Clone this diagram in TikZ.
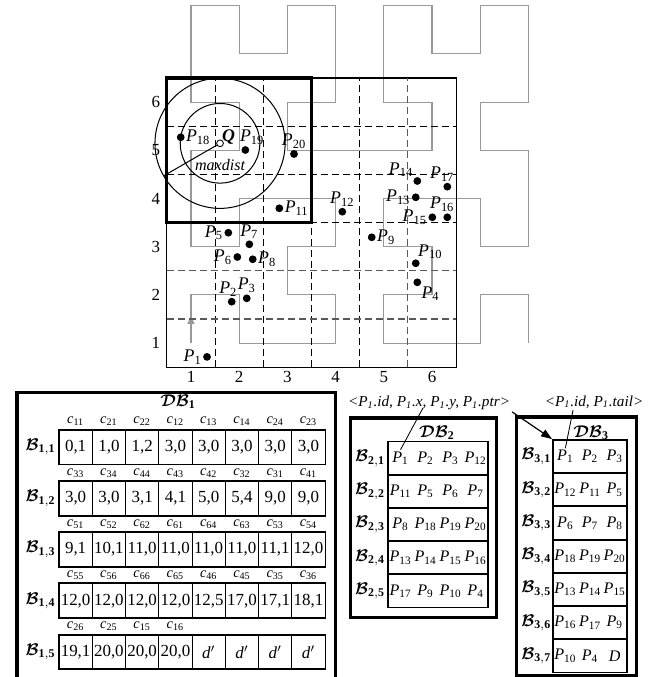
\documentclass[tikz,border=0pt]{standalone}
\usepackage{fontspec}
\setmainfont{Liberation Serif}
\usepackage{bm}
\usetikzlibrary{positioning,arrows.meta}

\newcommand{\pnt}[1]{\textit{P}\textsubscript{#1}}
\newcommand{\blk}[1]{$\bm{\mathcal{B}}_{\mathbf{#1}}$}

\begin{document}
\begin{tikzpicture}[x=1cm, y=1cm,
  every node/.style={font=\fontsize{10}{12}\selectfont},
  dot/.style={circle, fill=black, inner sep=0pt, minimum size=4.6pt},
  plab/.style={inner sep=0.5pt, font=\fontsize{10.5}{12}\selectfont},
  grd/.style={dash pattern=on 4pt off 2.5pt, line width=0.6pt},
  hilb/.style={draw=black!40, line width=0.7pt},
  cell/.style={draw, line width=0.5pt, minimum width=0.69cm, minimum height=0.705cm,
    inner sep=0pt, font=\fontsize{10}{12}\selectfont},
  hdr/.style={inner sep=0pt, font=\fontsize{8.5}{10}\selectfont},
  blab/.style={inner sep=0pt},
  prow/.style={draw, line width=1.1pt, minimum height=0.689cm, inner sep=0pt},
  ent/.style={inner sep=1pt, font=\fontsize{9.5}{11}\selectfont},
  frame/.style={line width=1.8pt},
  note/.style={inner sep=1pt, font=\fontsize{9}{11}\selectfont\itshape}]
  \useasboundingbox (-2.963,-5.927) rectangle (10.917,8.118);
  \clip (-2.963,-5.927) rectangle (10.917,8.118);

  % hilbert order
  \draw[hilb] (1,1) -- (1,2) -- (2,2) -- (2,1) -- (3,1) -- (4,1) -- (4,2) -- (3,2)
    -- (3,3) -- (4,3) -- (4,4) -- (3,4) -- (2,4) -- (2,3) -- (1,3) -- (1,4)
    -- (1,5) -- (2,5) -- (2,6) -- (1,6) -- (1,7) -- (1,8) -- (2,8) -- (2,7)
    -- (3,7) -- (3,8) -- (4,8) -- (4,7) -- (4,6) -- (3,6) -- (3,5) -- (4,5)
    -- (5,5) -- (6,5) -- (6,6) -- (5,6) -- (5,7) -- (5,8) -- (6,8) -- (6,7)
    -- (7,7) -- (7,8) -- (8,8) -- (8,7) -- (8,6) -- (7,6) -- (7,5) -- (8,5)
    -- (8,4) -- (8,3) -- (7,3) -- (7,4) -- (6,4) -- (5,4) -- (5,3) -- (6,3)
    -- (6,2) -- (5,2) -- (5,1) -- (6,1) -- (7,1) -- (7,2) -- (8,2) -- (8,1);
  \draw[hilb, -{Triangle[length=4.6pt, width=4.2pt]}] (1,1) -- (1,1.56);

  \draw[line width=0.6pt] (0.5,0.5) rectangle (6.5,6.5);
  \foreach \k/\c in {1.5/black, 2.5/black, 3.5/black, 4.5/black, 5.5/black!65}
    \draw[grd, draw=\c] (\k,0.5) -- (\k,6.5);
  \foreach \k/\c in {1.5/black!65, 2.5/black!65, 3.5/black, 4.5/black, 5.5/black}
    \draw[grd, draw=\c, line width=0.8pt] (0.5,\k) -- (6.5,\k);
  \draw[line width=1.8pt] (0.5,3.5) rectangle (3.5,6.5);
  \foreach \i in {1,...,6} {
    \node (xl\i) at (\i,0.3) {\i};
    \node (yl\i) at (0.27,\i) {\i};
  }

  \foreach \i/\x/\y/\pos/\dx in {1/1.332/0.714/left/0, 2/1.844/1.859/above/-2,
      3/2.156/1.929/above/0, 4/5.695/2.261/below right/0, 5/1.774/3.290/left/0,
      6/1.961/2.786/left/0, 7/2.210/3.050/above/0, 8/2.280/2.739/right/0,
      9/4.749/3.195/right/0, 10/5.662/2.656/above right/-1, 11/2.832/3.797/right/0,
      12/4.139/3.726/above/0, 13/5.662/4.025/left/0, 14/5.695/4.363/above left/0,
      15/6.006/3.610/left/0, 16/6.317/3.610/above/-3, 17/6.317/4.245/above/-3,
      18/0.786/5.270/right/0, 19/2.127/5.006/above/4, 20/3.137/4.923/above/0} {
    \node[dot] (p\i) at (\x,\y) {};
    \node[plab, \pos=0pt of p\i, xshift=\dx pt] (lp\i) {\pnt{\i}};
  }
  \node[circle, draw, fill=white, inner sep=0pt, minimum size=4pt, line width=0.5pt]
    (q) at (1.602,5.145) {};
  \node[plab, above right=-3pt and -1pt of q] (lq) {\textbf{\textit{Q}}};
  \draw[line width=0.6pt] (q.center) circle (0.826);
  \draw[line width=0.6pt] (q.center) circle (1.35);
  \path (q.center) ++(210:1.35) coordinate (mdend);
  \draw[line width=0.6pt] (q) -- (mdend);
  \node[font=\fontsize{9.5}{11}\selectfont\itshape] (md) at (1.602,4.693) {maxdist};

  % DB1
  \draw[frame] (-2.610,-6.3) rectangle (3.988,-0.015);
  \node (db1) at (0.73,-0.22) {$\bm{\mathcal{DB}}_{\mathbf{1}}$};
  \node[blab] (bl11) at (-2.122,-1.156) {\blk{1,1}};
  \foreach \j/\h/\v in {1/11/{0,1}, 2/21/{1,0}, 3/22/{1,2}, 4/12/{3,0},
      5/13/{3,0}, 6/14/{3,0}, 7/24/{3,0}, 8/23/{3,0}} {
    \node[cell] (c1\j) at ({-1.739+0.69*(\j-0.5)},-1.156) {\v};
    \node[hdr, above=2pt of c1\j] (h1\j) {\textit{c}\textsubscript{\h}};
  }
  \draw[line width=1.1pt] (c11.north west) rectangle (c18.south east);
  \node[blab] (bl12) at (-2.122,-2.219) {\blk{1,2}};
  \foreach \j/\h/\v in {1/33/{3,0}, 2/34/{3,0}, 3/44/{3,1}, 4/43/{4,1},
      5/42/{5,0}, 6/32/{5,4}, 7/31/{9,0}, 8/41/{9,0}} {
    \node[cell] (c2\j) at ({-1.739+0.69*(\j-0.5)},-2.219) {\v};
    \node[hdr, above=2pt of c2\j] (h2\j) {\textit{c}\textsubscript{\h}};
  }
  \draw[line width=1.1pt] (c21.north west) rectangle (c28.south east);
  \node[blab] (bl13) at (-2.122,-3.282) {\blk{1,3}};
  \foreach \j/\h/\v in {1/51/{9,1}, 2/52/{10,1}, 3/62/{11,0}, 4/61/{11,0},
      5/64/{11,0}, 6/63/{11,0}, 7/53/{11,1}, 8/54/{12,0}} {
    \node[cell] (c3\j) at ({-1.739+0.69*(\j-0.5)},-3.282) {\v};
    \node[hdr, above=2pt of c3\j] (h3\j) {\textit{c}\textsubscript{\h}};
  }
  \draw[line width=1.1pt] (c31.north west) rectangle (c38.south east);
  \node[blab] (bl14) at (-2.122,-4.345) {\blk{1,4}};
  \foreach \j/\h/\v in {1/55/{12,0}, 2/56/{12,0}, 3/66/{12,0}, 4/65/{12,0},
      5/46/{12,5}, 6/45/{17,0}, 7/35/{17,1}, 8/36/{18,1}} {
    \node[cell] (c4\j) at ({-1.739+0.69*(\j-0.5)},-4.345) {\v};
    \node[hdr, above=2pt of c4\j] (h4\j) {\textit{c}\textsubscript{\h}};
  }
  \draw[line width=1.1pt] (c41.north west) rectangle (c48.south east);
  \node[blab] (bl15) at (-2.122,-5.408) {\blk{1,5}};
  \foreach \j/\h/\v in {1/26/{19,1}, 2/25/{20,0}, 3/15/{20,0}, 4/16/{20,0}} {
    \node[cell] (c5\j) at ({-1.739+0.69*(\j-0.5)},-5.408) {\v};
    \node[hdr, above=2pt of c5\j] (h5\j) {\textit{c}\textsubscript{\h}};
  }
  \foreach \j in {5,...,8}
    \node[cell] (c5\j) at ({-1.739+0.69*(\j-0.5)},-5.408) {\textit{d}$'$};
  \draw[line width=1.1pt] (c51.north west) rectangle (c58.south east);

  % DB2
  \draw[frame] (4.299,-4.683) rectangle (7.328,-0.554);
  \node (db2) at (6.1,-0.86) {$\bm{\mathcal{DB}}_{\mathbf{2}}$};
  \foreach \i/\a/\b/\c/\d in {1/1/2/3/12, 2/11/5/6/7, 3/8/18/19/20,
      4/13/14/15/16, 5/17/9/10/4} {
    \node[prow, minimum width=2.075cm] (r2\i) at (6.1245,{-1.3855-0.689*(\i-1)}) {};
    \node[blab] (bl2\i) at (4.714,{-1.3855-0.689*(\i-1)}) {\blk{2,\i}};
    \node[ent] (e2\i-1) at (5.3465,{-1.3855-0.689*(\i-1)}) {\pnt{\a}};
    \node[ent] (e2\i-2) at (5.8655,{-1.3855-0.689*(\i-1)}) {\pnt{\b}};
    \node[ent] (e2\i-3) at (6.3845,{-1.3855-0.689*(\i-1)}) {\pnt{\c}};
    \node[ent] (e2\i-4) at (6.9035,{-1.3855-0.689*(\i-1)}) {\pnt{\d}};
  }

  % DB3
  \draw[frame] (7.743,-5.886) rectangle (10.232,-0.533);
  \node (db3) at (9.3,-0.86) {$\bm{\mathcal{DB}}_{\mathbf{3}}$};
  \foreach \i/\a/\b/\c in {1/\pnt{1}/\pnt{2}/\pnt{3}, 2/\pnt{12}/\pnt{11}/\pnt{5},
      3/\pnt{6}/\pnt{7}/\pnt{8}, 4/\pnt{18}/\pnt{19}/\pnt{20},
      5/\pnt{13}/\pnt{14}/\pnt{15}, 6/\pnt{16}/\pnt{17}/\pnt{9},
      7/\pnt{10}/\pnt{4}/\textit{D}} {
    \node[prow, minimum width=1.536cm] (r3\i) at (9.278,{-1.3545-0.689*(\i-1)}) {};
    \node[blab] (bl3\i) at (8.16,{-1.3545-0.689*(\i-1)}) {\blk{3,\i}};
    \node[ent] (e3\i-1) at (8.766,{-1.3545-0.689*(\i-1)}) {\a};
    \node[ent] (e3\i-2) at (9.278,{-1.3545-0.689*(\i-1)}) {\b};
    \node[ent] (e3\i-3) at (9.790,{-1.3545-0.689*(\i-1)}) {\c};
  }

  \node[note] (ann2) at (5.938,-0.241)
    {<P\textsubscript{1}.id, P\textsubscript{1}.x, P\textsubscript{1}.y, P\textsubscript{1}.ptr>};
  \node[note] (ann3) at (9.361,-0.220) {<P\textsubscript{1}.id, P\textsubscript{1}.tail>};
  \coordinate (a2x) at (5.813,-0.345);
  \coordinate (a3x) at (8.926,-0.388);
  \draw[line width=0.5pt] (e21-1.north) -- (a2x);
  \draw[line width=0.5pt] (e31-1.north) -- (a3x);
  \draw[line width=0.7pt, -{Triangle[length=6.5pt, width=4.6pt]}] (ann2.south east) -- (r31.north west);
\end{tikzpicture}
\end{document}
